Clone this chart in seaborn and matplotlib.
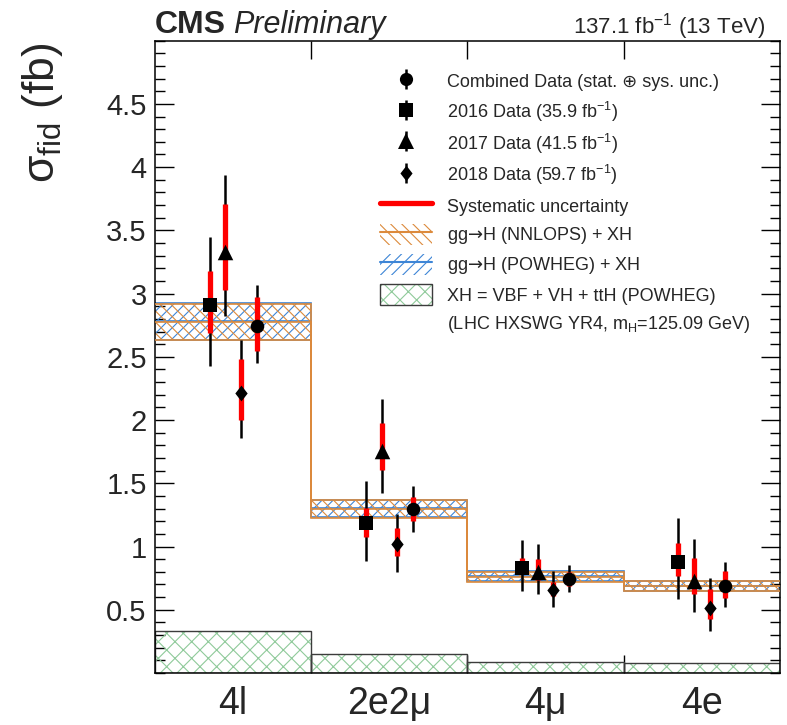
import numpy as np
import pandas as pd
import matplotlib
matplotlib.use("Agg")
import matplotlib.pyplot as plt
import seaborn as sns
from matplotlib.lines import Line2D
from matplotlib.patches import Patch
from matplotlib.path import Path
from matplotlib.ticker import MultipleLocator, FixedLocator

# ---------------- data ----------------
categories = ["4l", "2e2μ", "4μ", "4e"]

# measured values (fb)
comb_val = [2.745, 1.293, 0.743, 0.685]
comb_tot_lo = [2.455, 1.117, 0.643, 0.525]
comb_tot_hi = [3.065, 1.476, 0.853, 0.874]
comb_sys_lo = [2.55, 1.20, 0.690, 0.594]
comb_sys_hi = [2.97, 1.39, 0.795, 0.808]

d16_val = [2.91, 1.188, 0.834, 0.874]
d16_tot_lo = [2.43, 0.887, 0.646, 0.586]
d16_tot_hi = [3.45, 1.52, 1.05, 1.227]
d16_sys_lo = [2.69, 1.075, 0.782, 0.769]
d16_sys_hi = [3.18, 1.306, 0.908, 1.03]

d17_val = [3.33, 1.756, 0.795, 0.73]
d17_tot_lo = [2.82, 1.423, 0.625, 0.48]
d17_tot_hi = [3.94, 2.17, 1.023, 1.057]
d17_sys_lo = [3.03, 1.607, 0.735, 0.625]
d17_sys_hi = [3.71, 1.98, 0.90, 0.908]

d18_val = [2.215, 1.018, 0.657, 0.515]
d18_tot_lo = [1.86, 0.80, 0.525, 0.331]
d18_tot_hi = [2.63, 1.258, 0.808, 0.751]
d18_sys_lo = [2.00, 0.926, 0.612, 0.429]
d18_sys_hi = [2.48, 1.144, 0.716, 0.665]

# theory predictions
nnlops_center = [2.773, 1.297, 0.760, 0.685]
nnlops_err = [0.143, 0.069, 0.042, 0.039]
powheg_center = [2.780, 1.302, 0.768, 0.688]
powheg_err = [0.145, 0.068, 0.040, 0.037]
xh_val = [0.33, 0.15, 0.09, 0.077]

legend_labels = [
    "Combined Data (stat. ⊕ sys. unc.)",
    "2016 Data (35.9 fb$^{-1}$)",
    "2017 Data (41.5 fb$^{-1}$)",
    "2018 Data (59.7 fb$^{-1}$)",
    "Systematic uncertainty",
    "gg$\\mathsf{→}$H (NNLOPS) + XH",
    "gg$\\mathsf{→}$H (POWHEG) + XH",
    "XH = VBF + VH + ttH (POWHEG)",
    "(LHC HXSWG YR4, m$_{\\mathrm{H}}$=125.09 GeV)",
]

# ---------------- style ----------------
sns.set_theme(style="ticks")
plt.rcParams["font.family"] = ["Liberation Sans", "DejaVu Sans"]
plt.rcParams["mathtext.fontset"] = "custom"
plt.rcParams["mathtext.rm"] = "Liberation Sans"
plt.rcParams["mathtext.it"] = "Liberation Sans:italic"
plt.rcParams["mathtext.bf"] = "Liberation Sans:bold"
plt.rcParams["mathtext.sf"] = "DejaVu Sans"
plt.rcParams["hatch.linewidth"] = 0.8
plt.rcParams["axes.linewidth"] = 1.1

ORANGE = "#dc8a3c"
BLUE = "#3d85d6"
GREEN = "#8fca9a"
XH_EDGE = "#3c3c3c"

fig = plt.figure(figsize=(7.87, 7.25), dpi=100)
ax = fig.add_axes([0.197, 0.0717, 0.794, 0.8722])

n = len(categories)
edges = np.arange(n + 1)
centers = edges[:-1] + 0.5

# XH contribution (hatched boxes)
ax.bar(edges[:-1], xh_val, width=1, align="edge", fill=False, hatch="xx",
       edgecolor=GREEN, linewidth=0, zorder=1)
ax.bar(edges[:-1], xh_val, width=1, align="edge", fill=False,
       edgecolor=XH_EDGE, linewidth=1.0, zorder=1.1)

# theory bands
def band(center, err, color, hatch, z):
    c = np.asarray(center)
    e = np.asarray(err)
    ax.bar(edges[:-1], 2 * e, bottom=c - e, width=1, align="edge", fill=False,
           hatch=hatch, edgecolor=color, linewidth=0, zorder=z)
    for vals in (c + e, c - e, c):
        ax.stairs(vals, edges, baseline=None, color=color, linewidth=1.2, zorder=z + 0.1)

band(powheg_center, powheg_err, BLUE, "///", 2)
band(nnlops_center, nnlops_err, ORANGE, "\\\\\\", 2.5)

# data points
diamond = Path([(0, 1), (0.78, 0), (0, -1), (-0.78, 0), (0, 1)],
               [Path.MOVETO, Path.LINETO, Path.LINETO, Path.LINETO, Path.CLOSEPOLY])

series = [
    ("2016", -0.15, d16_val, d16_tot_lo, d16_tot_hi, d16_sys_lo, d16_sys_hi, "s", 95),
    ("2017", -0.05, d17_val, d17_tot_lo, d17_tot_hi, d17_sys_lo, d17_sys_hi, "^", 125),
    ("2018", 0.05, d18_val, d18_tot_lo, d18_tot_hi, d18_sys_lo, d18_sys_hi, diamond, 130),
    ("Combined", 0.15, comb_val, comb_tot_lo, comb_tot_hi, comb_sys_lo, comb_sys_hi, "o", 95),
]

for name, off, val, tlo, thi, slo, shi, mk, s in series:
    x = centers + off
    ax.vlines(x, tlo, thi, color="black", linewidth=1.8, zorder=5)
    ax.vlines(x, slo, shi, color="red", linewidth=3.8, zorder=6)
    df = pd.DataFrame({"x": x, "y": val, "dataset": name})
    sns.scatterplot(data=df, x="x", y="y", marker=mk, s=s, color="black",
                    edgecolor="black", linewidth=0, ax=ax, zorder=7, legend=False)

# ---------------- axes ----------------
ax.set_xlim(0, n)
ax.set_ylim(0, 5)
ax.set_xlabel("")
ax.set_ylabel("σ$_{\\mathrm{fid}}$ (fb)", fontsize=32)
ax.yaxis.set_label_coords(-0.144, 0.997)
ax.yaxis.label.set_horizontalalignment("right")

ax.xaxis.set_major_locator(FixedLocator(centers))
ax.set_xticklabels(categories, fontsize=27)
ax.xaxis.set_minor_locator(FixedLocator(edges[1:-1]))
ax.yaxis.set_major_locator(FixedLocator([0.5, 1, 1.5, 2, 2.5, 3, 3.5, 4, 4.5]))
ax.set_yticklabels(["0.5", "1", "1.5", "2", "2.5", "3", "3.5", "4", "4.5"], fontsize=21)
ax.yaxis.set_minor_locator(MultipleLocator(0.1))

ax.tick_params(which="both", direction="in", top=True, right=True, color="black", width=1.0)
ax.tick_params(axis="x", which="major", length=0, pad=9)
ax.tick_params(axis="x", which="minor", length=13)
ax.tick_params(axis="y", which="major", length=14, pad=6)
ax.tick_params(axis="y", which="minor", length=7)
for sp in ax.spines.values():
    sp.set_color("black")

# ---------------- header ----------------
cms = ax.text(0.0, 1.012, "CMS", transform=ax.transAxes, fontsize=23, fontweight="bold",
              ha="left", va="baseline")
ax.annotate("Preliminary", xy=(1, 0), xycoords=cms, xytext=(5, 0),
            textcoords="offset points", fontsize=22, style="italic",
            ha="left", va="bottom")
ax.text(0.976, 1.012, "137.1 fb$^{-1}$ (13 TeV)", transform=ax.transAxes, fontsize=16,
        ha="right", va="baseline")

# ---------------- legend ----------------
def data_handle(mk, ms):
    return (Line2D([], [], marker="|", markersize=14, markeredgewidth=1.8, color="black", ls="none"),
            Line2D([], [], marker=mk, markersize=ms, color="black", markeredgewidth=0, ls="none"))

handles = [
    data_handle("o", 9.5),
    data_handle("s", 9.5),
    data_handle("^", 11),
    data_handle(diamond, 11.2),
    Line2D([], [], color="red", linewidth=3.8),
    (Patch(fill=False, hatch="\\\\\\", edgecolor=ORANGE, linewidth=0),
     Line2D([], [], color=ORANGE, linewidth=1.5)),
    (Patch(fill=False, hatch="///", edgecolor=BLUE, linewidth=0),
     Line2D([], [], color=BLUE, linewidth=1.5)),
    (Patch(fill=False, hatch="xx", edgecolor=GREEN, linewidth=0),
     Patch(fill=False, edgecolor=XH_EDGE, linewidth=1.0)),
    Line2D([], [], ls="none"),
]
leg = ax.legend(handles, legend_labels, loc="upper left", bbox_to_anchor=(0.36, 0.952),
                frameon=False, fontsize=13, handlelength=2.9, handleheight=1.4,
                handletextpad=0.8, labelspacing=0.43, borderpad=0, borderaxespad=0)

fig.savefig("out.png", dpi=100)
